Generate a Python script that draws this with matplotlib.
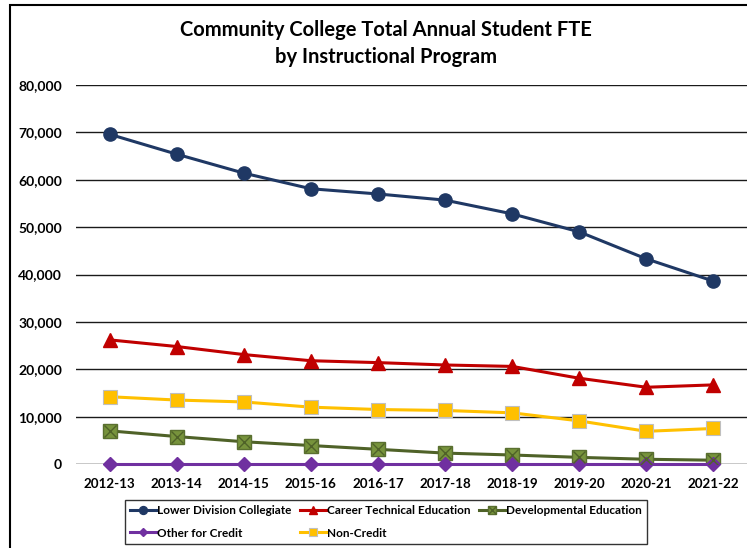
import matplotlib.pyplot as plt
from matplotlib.patches import Rectangle
from matplotlib.ticker import FuncFormatter
from matplotlib.legend_handler import HandlerTuple

# ---- data: annual student FTE by instructional program ----
years = ["2012-13", "2013-14", "2014-15", "2015-16", "2016-17",
         "2017-18", "2018-19", "2019-20", "2020-21", "2021-22"]
lower_division = [69600, 65400, 61400, 58100, 57000, 55700, 52800, 49000, 43300, 38600]
career_technical = [26200, 24800, 23100, 21800, 21400, 20900, 20600, 18100, 16200, 16700]
developmental = [7000, 5800, 4700, 3900, 3100, 2300, 1900, 1400, 1000, 800]
other_credit = [100, 100, 100, 100, 100, 100, 100, 100, 100, 100]
non_credit = [14200, 13500, 13100, 12000, 11500, 11300, 10800, 9100, 6900, 7500]

plt.rcParams['font.family'] = ['Lato', 'DejaVu Sans']

W, H = 747, 548
fig = plt.figure(figsize=(W / 100, H / 100), dpi=100)

# outer chart border (right and bottom run off the canvas)
fig.patches.append(Rectangle((10 / W, -0.05), 1.2, 1 - 5 / H + 0.05,
                             transform=fig.transFigure, fill=False,
                             edgecolor="black", linewidth=1.5))

ax = fig.add_axes([76 / W, (H - 464) / H, 671 / W, (464 - 85) / H])
x = range(len(years))

ldc, = ax.plot(x, lower_division, color="#1F3864", lw=2.2, marker="o", ms=9.5,
               mfc="#1F3864", mec="#1F3864", zorder=5)
cte, = ax.plot(x, career_technical, color="#C00000", lw=2.2, marker="^", ms=9.5,
               mfc="#C00000", mec="#C00000", zorder=5)
dev_sq, = ax.plot(x, developmental, color="#4F6228", lw=2.2, marker="s", ms=9.5,
                  mfc="#77933C", mec="#5A7030", zorder=5)
dev_x, = ax.plot(x, developmental, ls="none", marker="x", ms=8.5, mew=1.0,
                 color="#4F6228", zorder=6)
ofc, = ax.plot(x, other_credit, color="#7030A0", lw=2.2, marker="D", ms=7.5,
               mfc="#7030A0", mec="#7030A0", zorder=5, clip_on=False)
nc, = ax.plot(x, non_credit, color="#FFC000", lw=2.2, marker="s", ms=10.5,
              mfc="#FFC000", mec="#BFBFBF", mew=0.8, zorder=5)

ax.set_xlim(-0.5, len(years) - 0.5)
ax.set_ylim(0, 80000)
ax.set_yticks(range(0, 80001, 10000))
ax.yaxis.set_major_formatter(FuncFormatter(lambda v, p: f"{int(v):,}"))
ax.set_xticks(list(x))
ax.set_xticklabels(years)

for s in ax.spines.values():
    s.set_visible(False)
ax.axhline(0, color="#BFBFBF", lw=1.2, zorder=1)
for v in range(10000, 80001, 10000):
    ax.axhline(v, color="#1A1A1A", lw=1.0, zorder=1)

ax.tick_params(axis="y", length=0, labelsize=10, pad=10)
ax.tick_params(axis="x", length=0, labelsize=9.6, pad=10)
for lab in ax.get_xticklabels() + ax.get_yticklabels():
    lab.set_fontweight("bold")

fig.text(386 / W, 1 - 30 / H, "Community College Total Annual Student FTE",
         ha="center", va="center", fontsize=14.5, fontweight="bold")
fig.text(386 / W, 1 - 57 / H, "by Instructional Program",
         ha="center", va="center", fontsize=14.5, fontweight="bold")

handles = [ldc, ofc, cte, nc, (dev_sq, dev_x)]
labels = ["Lower Division Collegiate", "Other for Credit",
          "Career Technical Education", "Non-Credit", "Developmental Education"]
leg = fig.legend(handles, labels, ncol=3, loc="center",
                 bbox_to_anchor=(386 / W, 1 - 522 / H),
                 handler_map={tuple: HandlerTuple(ndivide=1, pad=0)},
                 prop={"weight": "bold", "size": 8.5}, frameon=True,
                 fancybox=False, edgecolor="black", handlelength=2.2,
                 handletextpad=0.1, columnspacing=0.7, borderpad=0.45,
                 labelspacing=0.95, markerscale=0.6)
leg.get_frame().set_linewidth(1.0)

fig.savefig("out.png", dpi=100)
